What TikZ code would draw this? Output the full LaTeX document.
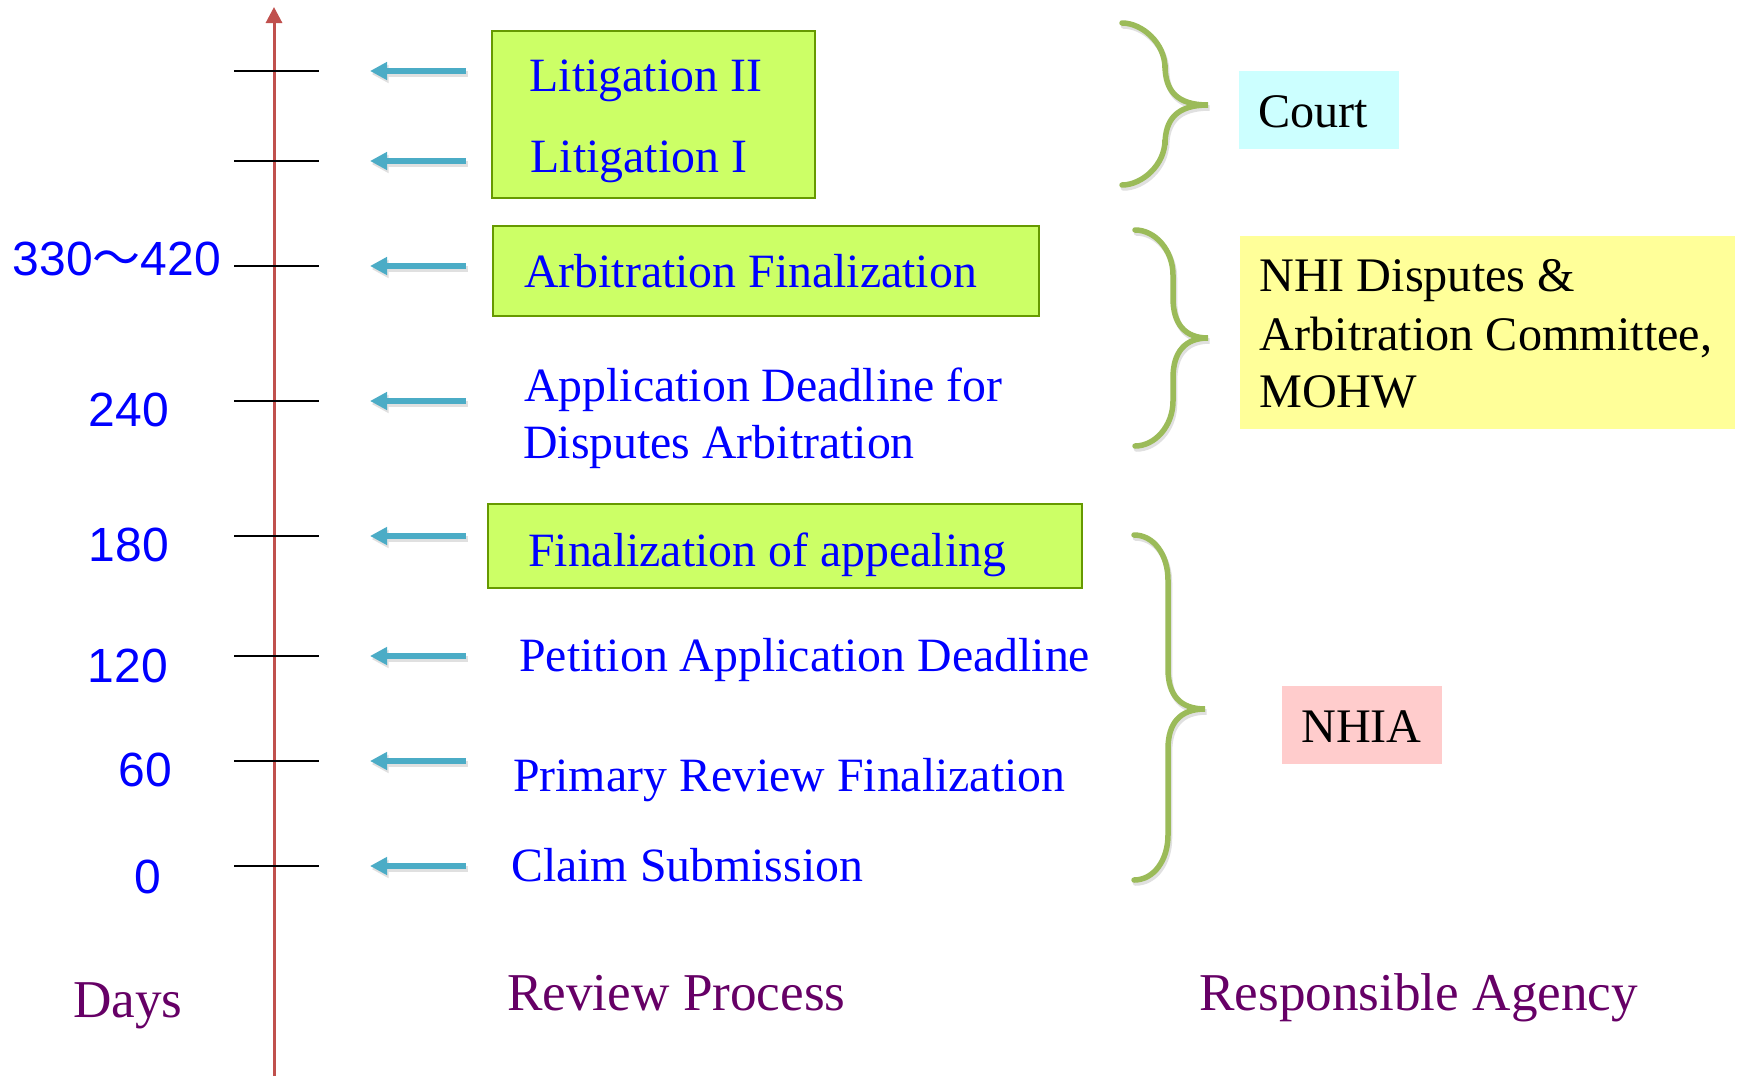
\documentclass[tikz,border=0pt]{standalone}
\usepackage{fontspec}
\setmainfont{Liberation Serif}
\newfontfamily\numfont{Liberation Sans}
\newfontfamily\cjkfont{Noto Sans CJK SC}
\usetikzlibrary{arrows.meta}
\definecolor{arrblue}{HTML}{4BACC6}
\definecolor{axred}{HTML}{C0504D}
\definecolor{bracegreen}{HTML}{9BBB59}
\definecolor{boxfill}{HTML}{CCFF66}
\definecolor{boxborder}{HTML}{669900}
\definecolor{hdrpurple}{HTML}{660066}
\definecolor{courtfill}{HTML}{CCFFFF}
\definecolor{nhifill}{HTML}{FFFF99}
\definecolor{nhiafill}{HTML}{FFCCCC}
\tikzset{
  revtext/.style={text=blue, font=\fontsize{47.8}{58}\selectfont, inner sep=0pt, anchor=base west},
  numtext/.style={text=blue, font=\numfont\fontsize{48}{58}\selectfont, inner sep=0pt, anchor=base east},
  agtext/.style={text=black, font=\fontsize{48.2}{58}\selectfont, inner sep=0pt, anchor=base west},
  hdrtext/.style={text=hdrpurple, font=\fontsize{53.2}{60}\selectfont, inner sep=0pt, anchor=base west},
  gbox/.style={draw=boxborder, fill=boxfill, line width=2.5pt, rectangle, inner sep=0pt},
  agbox/.style={rectangle, inner sep=0pt},
  tickline/.style={line width=2pt, draw=black},
  tlarrow/.style={-{Triangle[width=17pt,length=17pt]}, line width=6pt, draw=arrblue},
  tlshadow/.style={-{Triangle[width=17pt,length=17pt]}, line width=6pt, draw=black!12, transform canvas={shift={(1.5pt,-3pt)}}},
  axisline/.style={-{Triangle[width=16pt,length=16pt]}, line width=3pt, draw=axred},
  bracestroke/.style={draw=bracegreen, line width=5.5pt, line cap=round},
  braceshadow/.style={draw=black!12, line width=5.5pt, line cap=round},
}
\newcommand{\agbrace}[7]{% style xe xs xt ytop ymid ybot
  \draw[#1] (#2,#5) .. controls ({#2+20},#5) and (#3,{#5+20}) .. (#3,{#5+45})
    -- (#3,{#6-40}) .. controls (#3,{#6-14}) and ({#3+12},#6) .. (#4,#6)
    .. controls ({#3+12},#6) and (#3,{#6+14}) .. (#3,{#6+40})
    -- (#3,{#7-45}) .. controls (#3,{#7-20}) and ({#2+20},#7) .. (#2,#7);
}
\begin{document}
\begin{tikzpicture}[x=1pt,y=-1pt]
\useasboundingbox (0,0) rectangle (1737,1076);
\fill[white] (0,0) rectangle (1737,1076);

% axis
\coordinate (axbot) at (274,1076);
\coordinate (axtop) at (274,7);
\draw[axisline] (axbot) -- (axtop);

% ticks and arrows
\foreach \yy [count=\i] in {71,161,266,401,536,656,761,866} {
  \coordinate (tl\i) at (234,\yy);
  \coordinate (tr\i) at (319,\yy);
  \draw[tickline] (tl\i) -- (tr\i);
  \coordinate (as\i) at (466,\yy);
  \coordinate (ae\i) at (370,\yy);
  \draw[tlshadow] (as\i) -- (ae\i);
  \draw[tlarrow] (as\i) -- (ae\i);
}

% day labels
\node[numtext] (d330) at (221,275) {330{\cjkfont ～}420};
\node[numtext] (d240) at (169,426) {240};
\node[numtext] (d180) at (169,561) {180};
\node[numtext] (d120) at (168,682) {120};
\node[numtext] (d60) at (172,786) {60};
\node[numtext] (d0) at (161,893) {0};

% green boxes
\node[gbox, minimum width=323pt, minimum height=167pt] (box1) at (653.5,114.5) {};
\node[gbox, minimum width=546pt, minimum height=90pt] (box2) at (766,271) {};
\node[gbox, minimum width=594pt, minimum height=84pt] (box3) at (785,546) {};

% review process texts
\node[revtext] (lit2) at (529.5,91) {Litigation II};
\node[revtext] (lit1) at (530.5,172) {Litigation I};
\node[revtext] (arb) at (524,287) {Arbitration Finalization};
\node[revtext] (app1) at (524,401) {Application Deadline for};
\node[revtext] (app2) at (523,458) {Disputes Arbitration};
\node[revtext] (fin) at (528,566) {Finalization of appealing};
\node[revtext] (pet) at (519,671) {Petition Application Deadline};
\node[revtext] (prim) at (513,791) {Primary Review Finalization};
\node[revtext] (claim) at (511,881) {Claim Submission};

% braces
\agbrace{braceshadow, transform canvas={shift={(1.5pt,-3pt)}}}{1122}{1165}{1208}{23}{105}{185}
\agbrace{bracestroke}{1122}{1165}{1208}{23}{105}{185}
\agbrace{braceshadow, transform canvas={shift={(1.5pt,-3pt)}}}{1135}{1173}{1208}{230}{338}{446}
\agbrace{bracestroke}{1135}{1173}{1208}{230}{338}{446}
\agbrace{braceshadow, transform canvas={shift={(1.5pt,-3pt)}}}{1134}{1168}{1205}{535}{709}{880}
\agbrace{bracestroke}{1134}{1168}{1205}{535}{709}{880}

% agency boxes
\node[agbox, fill=courtfill, minimum width=160pt, minimum height=78pt] (courtbox) at (1319,110) {};
\node[agbox, fill=nhifill, minimum width=495pt, minimum height=193pt] (nhibox) at (1487.5,332.5) {};
\node[agbox, fill=nhiafill, minimum width=160pt, minimum height=78pt] (nhiabox) at (1362,725) {};

\node[agtext] (court) at (1258,127) {Court};
\node[agtext] (nhi1) at (1259,291) {NHI Disputes \&};
\node[agtext] (nhi2) at (1259.5,350) {Arbitration Committee,};
\node[agtext] (nhi3) at (1259,407) {MOHW};
\node[agtext] (nhia) at (1301,742) {NHIA};

% headers
\node[hdrtext] (days) at (73,1017) {Days};
\node[hdrtext] (revp) at (507,1010) {Review Process};
\node[hdrtext] (resp) at (1199,1010) {Responsible Agency};
\end{tikzpicture}
\end{document}
